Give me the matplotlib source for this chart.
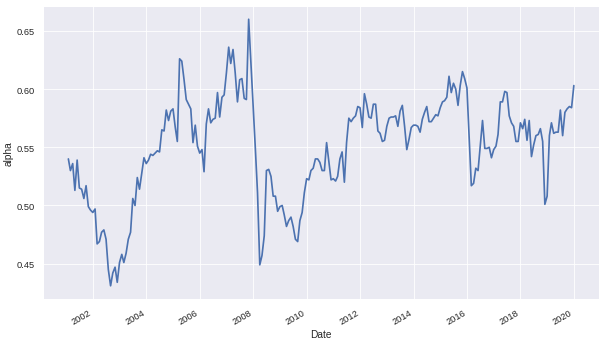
import matplotlib
matplotlib.use("Agg")
import matplotlib.pyplot as plt
import matplotlib.dates as mdates
import pandas as pd
import seaborn as sns

# monthly alpha, Jan 2001 .. Dec 2019 (month-end)
start = "2001-01-31"
alpha = [
    0.540, 0.530, 0.536, 0.513, 0.539, 0.515, 0.514, 0.506, 0.517, 0.499, 0.496, 0.494,  # 2001
    0.497, 0.467, 0.469, 0.477, 0.479, 0.471, 0.445, 0.431, 0.442, 0.447, 0.434, 0.451,  # 2002
    0.458, 0.451, 0.459, 0.471, 0.477, 0.506, 0.500, 0.524, 0.514, 0.528, 0.541, 0.536,  # 2003
    0.539, 0.544, 0.543, 0.545, 0.547, 0.546, 0.565, 0.564, 0.582, 0.573, 0.581, 0.583,  # 2004
    0.567, 0.555, 0.626, 0.624, 0.608, 0.591, 0.587, 0.583, 0.554, 0.569, 0.551, 0.545,  # 2005
    0.548, 0.529, 0.570, 0.583, 0.571, 0.574, 0.575, 0.597, 0.576, 0.593, 0.595, 0.614,  # 2006
    0.636, 0.622, 0.634, 0.614, 0.589, 0.608, 0.609, 0.592, 0.591, 0.660, 0.624, 0.586,  # 2007
    0.548, 0.511, 0.449, 0.457, 0.474, 0.530, 0.531, 0.525, 0.508, 0.508, 0.495, 0.499,  # 2008
    0.500, 0.492, 0.482, 0.487, 0.490, 0.482, 0.471, 0.469, 0.487, 0.494, 0.511, 0.523,  # 2009
    0.522, 0.530, 0.532, 0.540, 0.540, 0.537, 0.530, 0.530, 0.554, 0.538, 0.522, 0.523,  # 2010
    0.521, 0.525, 0.540, 0.546, 0.520, 0.554, 0.575, 0.572, 0.575, 0.577, 0.585, 0.584,  # 2011
    0.567, 0.596, 0.587, 0.576, 0.575, 0.587, 0.587, 0.564, 0.562, 0.555, 0.556, 0.568,  # 2012
    0.575, 0.576, 0.576, 0.577, 0.568, 0.581, 0.586, 0.568, 0.548, 0.557, 0.567, 0.569,  # 2013
    0.569, 0.568, 0.563, 0.574, 0.580, 0.585, 0.572, 0.572, 0.575, 0.578, 0.577, 0.584,  # 2014
    0.589, 0.590, 0.593, 0.611, 0.597, 0.605, 0.600, 0.586, 0.603, 0.615, 0.609, 0.601,  # 2015
    0.557, 0.517, 0.519, 0.532, 0.530, 0.551, 0.573, 0.549, 0.549, 0.550, 0.541, 0.548,  # 2016
    0.551, 0.561, 0.589, 0.589, 0.598, 0.597, 0.577, 0.571, 0.568, 0.555, 0.555, 0.571,  # 2017
    0.566, 0.574, 0.556, 0.573, 0.542, 0.552, 0.560, 0.561, 0.566, 0.555, 0.501, 0.508,  # 2018
    0.560, 0.571, 0.562, 0.563, 0.563, 0.582, 0.560, 0.580, 0.583, 0.585, 0.584, 0.603,  # 2019
]
dates = pd.date_range(start, periods=len(alpha), freq="ME")

sns.set_theme(style="darkgrid")
plt.rcParams["font.family"] = ["Liberation Sans", "DejaVu Sans"]

fig, ax = plt.subplots(figsize=(10, 5.65), dpi=60.7)
ax.plot(dates, alpha, color="#4C72B0", linewidth=2)
ax.set_xlabel("Date")
ax.set_ylabel("alpha")
ax.xaxis.set_major_locator(mdates.YearLocator(2))
ax.xaxis.set_major_formatter(mdates.DateFormatter("%Y"))
fig.autofmt_xdate()
fig.subplots_adjust(left=0.071, right=0.987, top=0.98, bottom=0.125)
fig.savefig("out.png", dpi=60.7)
